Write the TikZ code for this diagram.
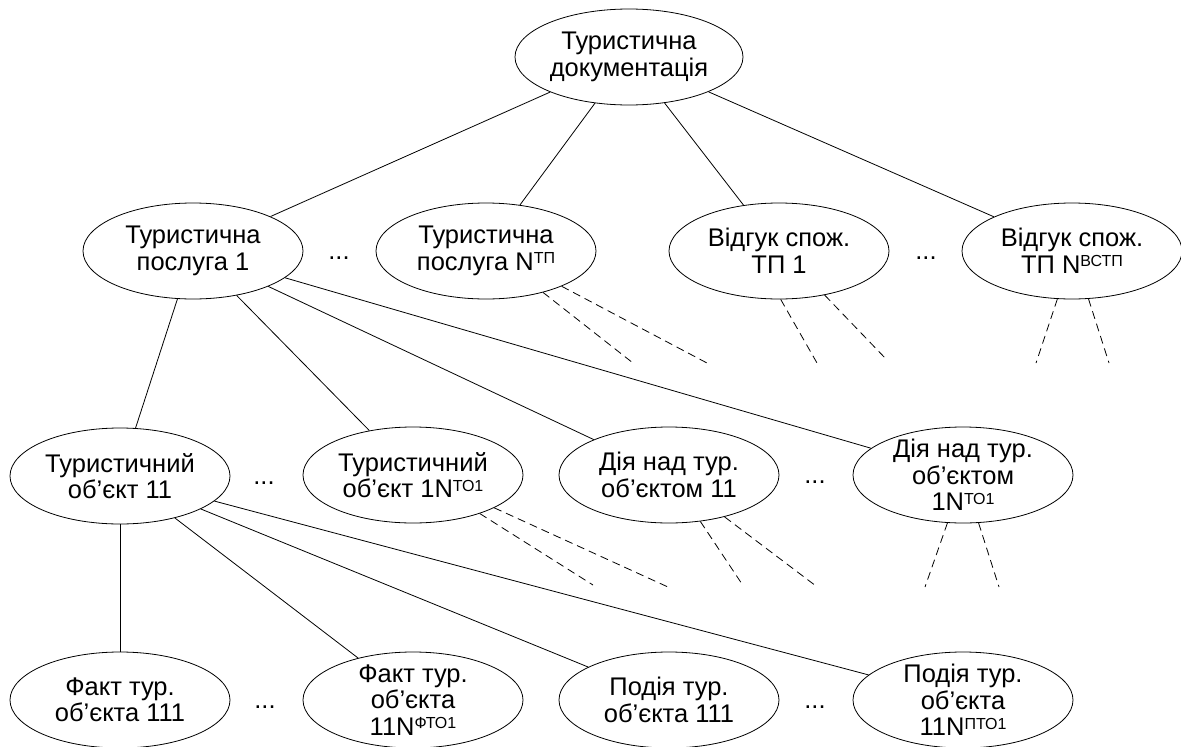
\documentclass[tikz,border=0pt]{standalone}
\usepackage{fontspec}
\setmainfont{Liberation Sans}
\usetikzlibrary{shapes.geometric}
\newcommand\sups[1]{\raisebox{6.5pt}{\fontsize{16}{16}\selectfont #1}}
\begin{document}
\begin{tikzpicture}[x=1pt,y=-1pt,
  el/.style={ellipse,draw,line width=0.8pt,minimum width=220pt,minimum height=96pt,
    inner xsep=-20pt,inner ysep=-30pt,align=center,font=\fontsize{25.5}{26.5}\selectfont},
  dotsnode/.style={font=\fontsize{25.5}{26.5}\selectfont,inner sep=0pt},
  link/.style={line width=0.8pt},
  dlink/.style={line width=0.8pt,dash pattern=on 8pt off 5pt}]
\useasboundingbox (0,0) rectangle (1181,747);
% nodes
\node[el,minimum width=228pt] (T) at (629,57) {Туристична\\документація};
\node[el] (A1) at (193,251) {Туристична\\послуга 1};
\node[el] (A2) at (486,251) {Туристична\\послуга N\sups{ТП}};
\node[el] (A3) at (779,251) {Відгук спож.\\ТП 1};
\node[el] (A4) at (1072,251) {Відгук спож.\\ТП N\sups{ВСТП}};
\node[el] (B1) at (120,476) {Туристичний\\об’єкт 11};
\node[el] (B2) at (413,475) {Туристичний\\об’єкт 1N\sups{ТО1}};
\node[el] (B3) at (669,475) {Дія над тур.\\об’єктом 11};
\node[el] (B4) at (963,475) {Дія над тур.\\об’єктом\\1N\sups{ТО1}};
\node[el] (C1) at (120,700) {Факт тур.\\об’єкта 111};
\node[el] (C2) at (413,700) {Факт тур.\\об’єкта\\11N\sups{ФТО1}};
\node[el] (C3) at (669,700) {Подія тур.\\об’єкта 111};
\node[el] (C4) at (963,700) {Подія тур.\\об’єкта\\11N\sups{ПТО1}};
% dots
\node[dotsnode] (d1) at (339,258) {...};
\node[dotsnode] (d2) at (926,258) {...};
\node[dotsnode] (d3) at (264,483) {...};
\node[dotsnode] (d4) at (815,482) {...};
\node[dotsnode] (d5) at (265,707) {...};
\node[dotsnode] (d6) at (815,707) {...};
% solid links
\draw[link] (T) -- (A1);
\draw[link] (T) -- (A2);
\draw[link] (T) -- (A3);
\draw[link] (T) -- (A4);
\draw[link] (A1) -- (B1);
\draw[link] (A1) -- (B2);
\draw[link] (A1) -- (B3);
\draw[link] (A1) -- (B4);
\draw[link] (B1) -- (C1);
\draw[link] (B1) -- (C2);
\draw[link] (B1) -- (C3);
\draw[link] (B1) -- (C4);
% dashed free ends
\coordinate (a2e1) at (633,363);
\coordinate (a2e2) at (707,363);
\coordinate (a3e1) at (817,363);
\coordinate (a3e2) at (887,360);
\coordinate (a4e1) at (1036,363);
\coordinate (a4e2) at (1109,363);
\coordinate (b2e1) at (593,585);
\coordinate (b2e2) at (668,587);
\coordinate (b3e1) at (742,584);
\coordinate (b3e2) at (816,586);
\coordinate (b4e1) at (925,587);
\coordinate (b4e2) at (999,587);
\draw[dlink] (A2.-36.2) -- (a2e1);
\draw[dlink] (A2.-25.9) -- (a2e2);
\draw[dlink] (A3.-88.8) -- (a3e1);
\draw[dlink] (A3.-44.3) -- (a3e2);
\draw[dlink] (A4.-107.7) -- (a4e1);
\draw[dlink] (A4.-71.2) -- (a4e2);
\draw[dlink] (B2.-30.3) -- (b2e1);
\draw[dlink] (B2.-22.7) -- (b2e2);
\draw[dlink] (B3.-56.3) -- (b3e1);
\draw[dlink] (B3.-37.2) -- (b3e2);
\draw[dlink] (B4.-108.4) -- (b4e1);
\draw[dlink] (B4.-72.6) -- (b4e2);
\end{tikzpicture}
\end{document}
